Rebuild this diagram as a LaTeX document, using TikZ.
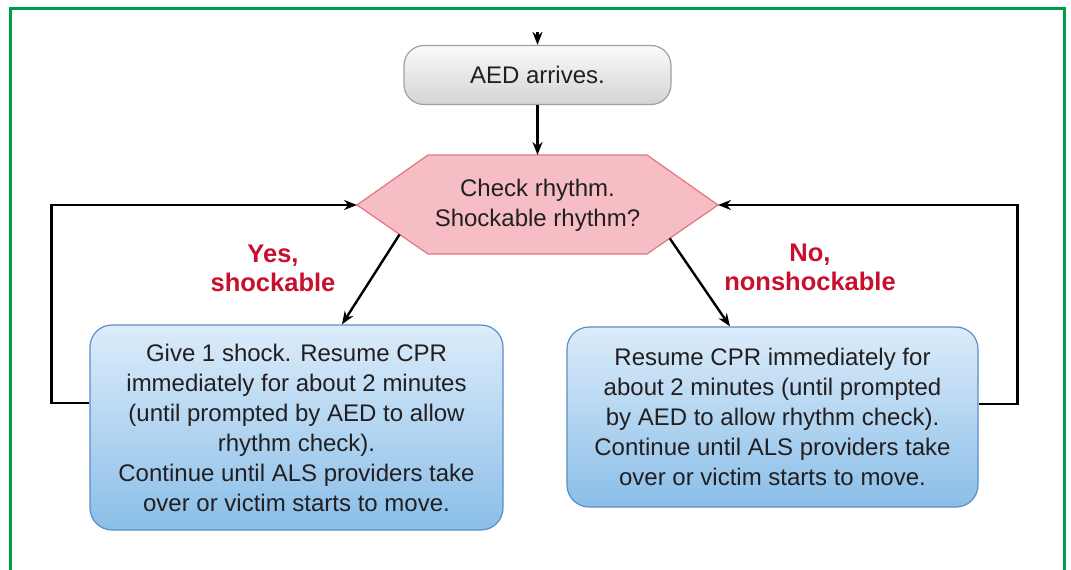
\documentclass[tikz,border=0pt]{standalone}
\usepackage{fontspec}
\setmainfont{Liberation Sans}
\usetikzlibrary{arrows.meta,calc}

\definecolor{framegreen}{RGB}{0,156,72}
\definecolor{inkdark}{RGB}{35,31,32}
\definecolor{labelred}{RGB}{200,16,46}
\definecolor{grayedge}{RGB}{160,160,160}
\definecolor{graytop}{RGB}{250,250,250}
\definecolor{graybot}{RGB}{212,212,212}
\definecolor{hexfill}{RGB}{246,190,196}
\definecolor{hexedge}{RGB}{226,118,128}
\definecolor{bluetop}{RGB}{220,236,250}
\definecolor{bluebot}{RGB}{138,190,232}
\definecolor{blueedge}{RGB}{92,142,196}

\tikzset{
  body/.style={font=\fontsize{24}{30}\selectfont, text=inkdark, align=center},
  startbox/.style={body, draw=grayedge, line width=1.2pt, rounded corners=20pt,
    top color=graytop, bottom color=graybot, minimum width=267pt, minimum height=59pt},
  actionbox/.style={body, draw=blueedge, line width=1.2pt, rounded corners=22pt,
    top color=bluetop, bottom color=bluebot, inner sep=0pt},
  branchlabel/.style={font=\fontsize{25.5}{29}\selectfont\bfseries, text=labelred, align=center},
  flow/.style={draw=black, line width=2.4pt, -{Stealth[length=13pt,width=10pt]}},
}

\begin{document}
\begin{tikzpicture}[x=1pt,y=-1pt]
  \useasboundingbox (0,0) rectangle (1071,570);
  \fill[white] (0,0) rectangle (1071,570);

  % outer frame
  \draw[framegreen, line width=3pt] (10,575) -- (10,8.5) -- (1064,8.5) -- (1064,575);

  % decision hexagon
  \coordinate (hl)  at (357,205);
  \coordinate (htl) at (428,155);
  \coordinate (htr) at (647,155);
  \coordinate (hr)  at (718,205);
  \coordinate (hbr) at (647,254);
  \coordinate (hbl) at (428,254);
  \coordinate (htop) at (537.5,155);
  \filldraw[fill=hexfill, draw=hexedge, line width=1.2pt]
    (hl) -- (htl) -- (htr) -- (hr) -- (hbr) -- (hbl) -- cycle;
  \node[body] (chk) at (537.5,205) {Check rhythm.\\Shockable rhythm?};

  % start box
  \node[startbox] (aed) at (537.5,75) {AED arrives.};
  \coordinate (in) at (537.5,32);

  % action boxes
  \node[actionbox, minimum width=413pt, minimum height=205pt] (shock) at (296.5,427.5)
    {Give 1 shock. Resume CPR\\immediately for about 2 minutes\\(until prompted by AED to allow\\rhythm check).\\Continue until ALS providers take\\over or victim starts to move.};
  \node[actionbox, minimum width=411pt, minimum height=180pt] (cpr) at (772.5,417)
    {Resume CPR immediately for\\about 2 minutes (until prompted\\by AED to allow rhythm check).\\Continue until ALS providers take\\over or victim starts to move.};

  % branch labels
  \node[branchlabel] (yes) at (273,268) {Yes,\\shockable};
  \node[branchlabel] (no) at (810,267) {No,\\nonshockable};

  % connectors
  \draw[flow] (in) -- (aed.north);
  \draw[flow] (aed.south) -- (htop);
  \coordinate (ls) at ($(hl)!0.6!(hbl)$);
  \coordinate (rs) at ($(hr)!0.68!(hbr)$);
  \draw[flow] (ls) -- (shock.north -| 342,0);
  \draw[flow] (rs) -- (cpr.north -| 730,0);
  \draw[flow] ($(shock.west)+(0,-24.5)$) -- ++(-38,0) |- (hl);
  \draw[flow] ($(cpr.east)+(0,-13)$) -- ++(39,0) |- (hr);
\end{tikzpicture}
\end{document}
